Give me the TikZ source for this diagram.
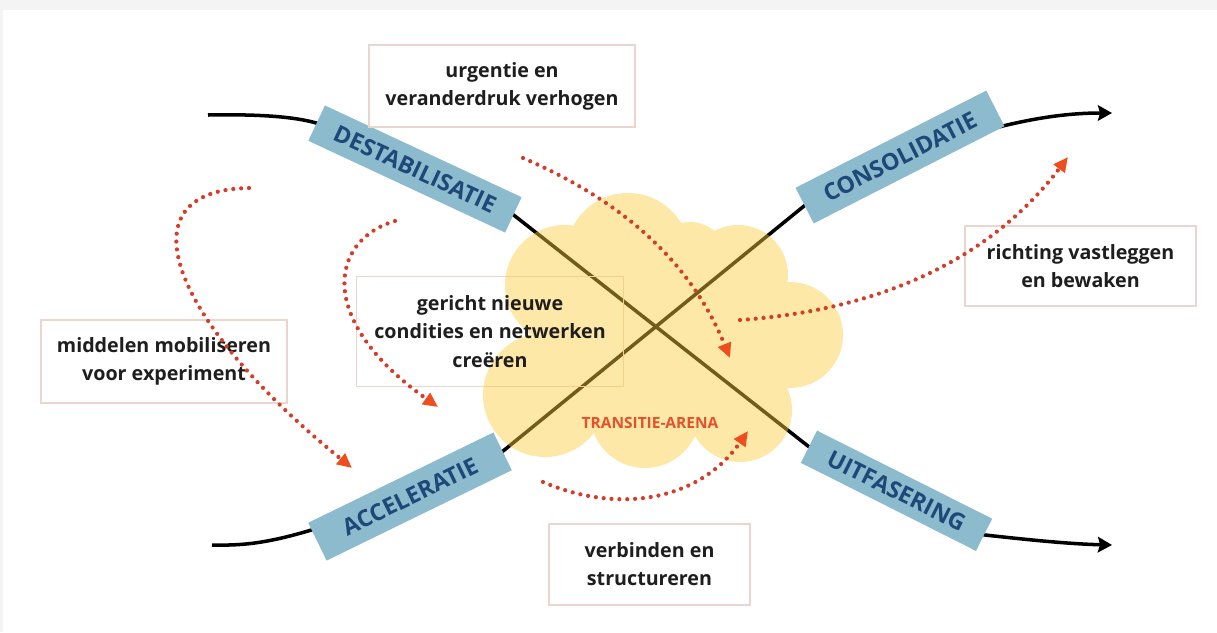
\documentclass[tikz,border=0pt]{standalone}
\usepackage{fontspec}
\setmainfont{Open Sans}
\usepackage{xcolor}
\usetikzlibrary{arrows.meta,positioning,backgrounds}

\definecolor{phasefill}{RGB}{139,187,205}
\definecolor{phasetext}{RGB}{30,72,120}
\definecolor{boxline}{RGB}{234,214,206}
\definecolor{cloudfill}{RGB}{252,205,60}
\definecolor{dotred}{RGB}{210,62,42}
\definecolor{tipred}{RGB}{238,78,30}
\definecolor{arenared}{RGB}{226,82,46}
\definecolor{ink}{RGB}{30,30,30}

\begin{document}
\begin{tikzpicture}[
    x=0.025cm,y=-0.025cm,
    textbox/.style={draw=boxline,line width=0.8pt,inner sep=0pt,align=center,text=ink,font=\bfseries\fontsize{14}{20}\selectfont},
    boxtext/.style={inner sep=0pt,align=center,text=ink,font=\bfseries\fontsize{14}{20}\selectfont},
    phase/.style={fill=phasefill,inner sep=0pt,text=phasetext,font=\bfseries\fontsize{16.5}{18}\selectfont},
    phaseline/.style={line width=2.5pt,-{Stealth[length=10pt,width=11pt,inset=1.5pt]}},
    flow/.style={dotred,line width=3pt,line cap=round,dash pattern=on 0pt off 5.6pt,
      -{Triangle[length=10.5pt,width=9.5pt,color=tipred]}}
  ]
    \useasboundingbox (0,0) rectangle (1217,632);

    \node[phase,minimum width=5.425cm,minimum height=0.975cm,rotate=-25] (destab) at (415,169) {DESTABILISATIE};
    \node[phase,minimum width=5.35cm,minimum height=1cm,rotate=27] (consol) at (900,157) {CONSOLIDATIE};
    \node[phase,minimum width=5.15cm,minimum height=1.05cm,rotate=26] (accel) at (410,496.5) {ACCELERATIE};
    \node[phase,minimum width=4.9cm,minimum height=0.9cm,rotate=-26.7] (uitf) at (896.5,490.75) {UITFASERING};

    \node[textbox,minimum width=6.65cm,minimum height=2.05cm] (urgentie) at (502,86) {urgentie en\\veranderdruk verhogen};
    \node[textbox,minimum width=6.15cm,minimum height=2.075cm] (middelen) at (164,361.5) {middelen mobiliseren\\voor experiment};
    \node[boxtext,minimum width=6.65cm,minimum height=2.725cm] (gericht) at (490,331.5) {gericht nieuwe\\condities en netwerken\\creëren};
    \node[textbox,minimum width=5.775cm,minimum height=2cm] (richting) at (1080.5,266) {richting vastleggen\\en bewaken};
    \node[textbox,minimum width=5.025cm,minimum height=2.025cm] (verbinden) at (649.5,564.5) {verbinden en\\structureren};
    \node[text=arenared,font=\bfseries\fontsize{11}{13}\selectfont] (arena) at (650,423) {TRANSITIE-ARENA};

    \coordinate (s1) at (208,115);
    \coordinate (e1) at (1112,545);
    \coordinate (s2) at (212,545);
    \coordinate (e2) at (1112,113);

    % lines, frame and cloud go under the labels
    \begin{scope}[on background layer]
    \fill[white] (0,0) rectangle (1217,632);
    \fill[gray!9] (0,0) rectangle (1217,10);
    \fill[gray!9] (0,0) rectangle (3,632);
    \draw[phaseline] (s1) .. controls (262,114) and (295,117) .. (destab.west) -- (destab.east)
      -- (uitf.west) -- (uitf.east) .. controls (1030,540) and (1070,544) .. (e1);
    \draw[phaseline] (s2) .. controls (260,546) and (290,540) .. (accel.center) -- (accel.east)
      -- (consol.west) -- (consol.center) .. controls (980,130) and (1040,113) .. (e2);
    \draw[boxline,line width=0.8pt] (gericht.south west) rectangle (gericht.north east);
    \fill[cloudfill,opacity=0.45]
      (565,285) circle[radius=60] (628,255) circle[radius=62] (690,260) circle[radius=38]
      (738,275) circle[radius=50] (790,335) circle[radius=53] (740,410) circle[radius=52]
      (645,413) circle[radius=55] (545,395) circle[radius=62] (650,340) circle[radius=95];
    \end{scope}

    \coordinate (a1s) at (249,188);
    \coordinate (a1e) at (352,468);
    \coordinate (a2s) at (395,221);
    \coordinate (a2e) at (438,407);
    \coordinate (a3s) at (523,158);
    \coordinate (a3e) at (730,358);
    \coordinate (a4s) at (740,320);
    \coordinate (a4e) at (1068,157);
    \coordinate (a5s) at (543,482);
    \coordinate (a5e) at (748,431);

    \draw[flow] (a1s) .. controls (120,190) and (170,320) .. (a1e);
    \draw[flow] (a2s) .. controls (330,240) and (315,320) .. (a2e);
    \draw[flow] (a3s) .. controls (620,200) and (690,260) .. (a3e);
    \draw[flow] (a4s) .. controls (880,310) and (990,260) .. (a4e);
    \draw[flow] (a5s) .. controls (620,515) and (700,500) .. (a5e);
  \end{tikzpicture}
\end{document}
